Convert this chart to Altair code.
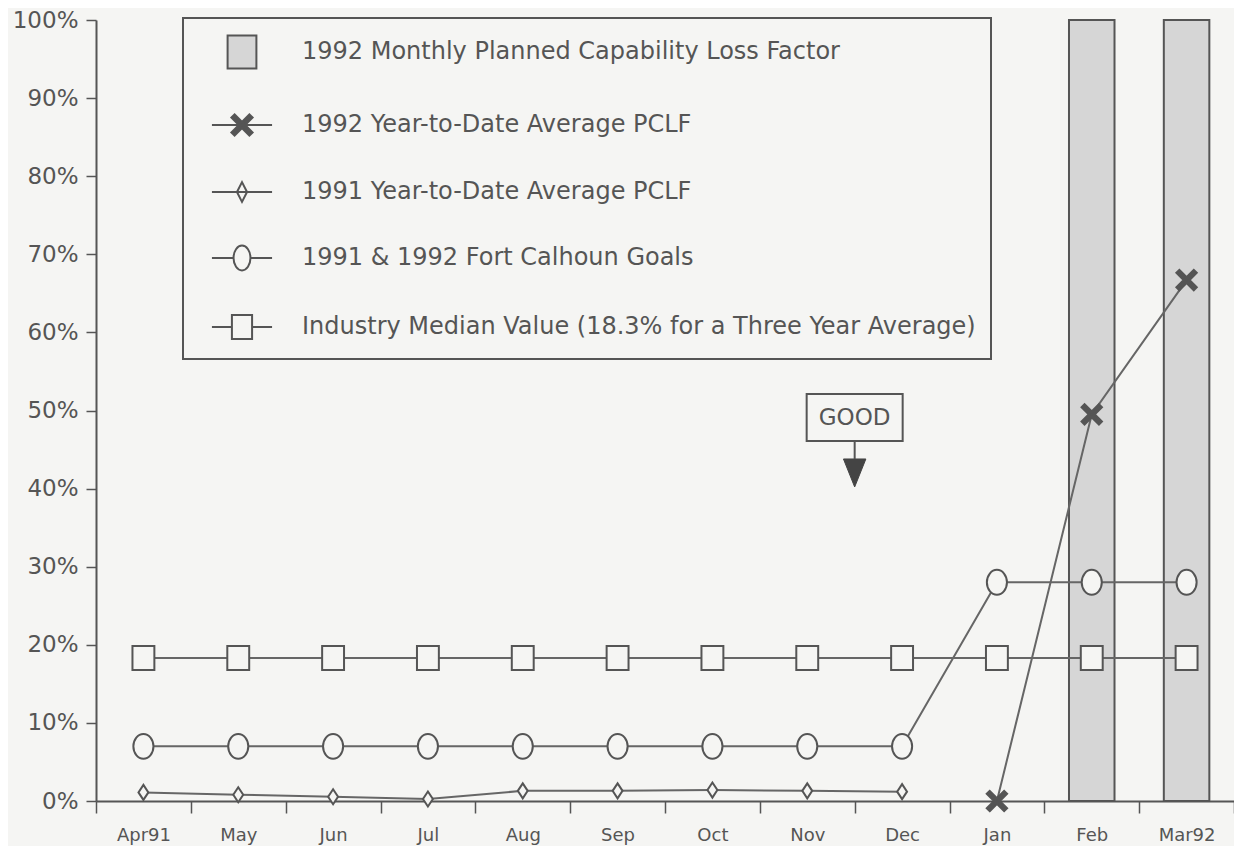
import altair as alt
import pandas as pd

# ---------------- data ----------------
MONTHS = ["Apr91", "May", "Jun", "Jul", "Aug", "Sep", "Oct", "Nov", "Dec", "Jan", "Feb", "Mar92"]

BAR_MONTHS = ["Feb", "Mar92"]
BAR_VALUES = [100, 100]

YTD92_MONTHS = ["Jan", "Feb", "Mar92"]
YTD92_VALUES = [0, 49.5, 66.7]

YTD91_MONTHS = ["Apr91", "May", "Jun", "Jul", "Aug", "Sep", "Oct", "Nov", "Dec"]
YTD91_VALUES = [1.1, 0.8, 0.55, 0.25, 1.3, 1.3, 1.4, 1.3, 1.2]

GOAL_VALUES = [7, 7, 7, 7, 7, 7, 7, 7, 7, 28, 28, 28]
INDUSTRY_VALUES = [18.3] * 12

SERIES = [
    "1992 Monthly Planned Capability Loss Factor",
    "1992 Year-to-Date Average PCLF",
    "1991 Year-to-Date Average PCLF",
    "1991 & 1992 Fort Calhoun Goals",
    "Industry Median Value (18.3% for a Three Year Average)",
]

GOOD_LABEL = "GOOD"
GOOD_MONTH = "Nov"

# ---------------- styles ----------------
BG = "#f5f5f3"
INK = "#555555"
FONT = "DejaVu Sans"

GOOD_BOX_Y = 49.1
GOOD_STEM_TOP = 46.0
GOOD_STEM_BOTTOM = 43.8
GOOD_HEAD_Y = 42.0

# marker paths (unit space, size 900 -> 15 px per unit)
P_X = ("M-0.68,-0.48L0.48,0.68L0.68,0.48L-0.48,-0.68Z "
       "M-0.48,0.68L0.68,-0.48L0.48,-0.68L-0.68,0.48Z")
P_DIAMOND = "M0,-0.5L0.33,0L0,0.5L-0.33,0Z"
P_ELLIPSE = "M-0.67,0A0.67,0.83 0 1,1 0.67,0A0.67,0.83 0 1,1 -0.67,0Z"
P_SQUARE = "M-0.73,-0.8H0.73V0.8H-0.73Z"

# legend symbol paths (size 1296 -> 18 px per unit)
L_BAR = "M-0.8,-0.92H0.8V0.92H-0.8Z"
L_X = ("M-1.67,0H1.67 M-0.59,-0.41L0.41,0.59L0.59,0.41L-0.41,-0.59Z "
       "M-0.41,0.59L0.59,-0.41L0.41,-0.59L-0.59,0.41Z")
L_DIAMOND = "M-1.67,0H1.67M0,-0.55L0.28,0L0,0.55L-0.28,0Z"
L_CIRCLE = ("M-1.67,0H-0.47M0.47,0H1.67M-0.47,0A0.47,0.69 0 1,1 0.47,0"
            "A0.47,0.69 0 1,1 -0.47,0Z")
L_SQUARE = "M-1.67,0H-0.56M0.56,0H1.67M-0.56,-0.67H0.56V0.67H-0.56Z"

# ---------------- tables ----------------
bars = pd.DataFrame({"month": BAR_MONTHS, "value": BAR_VALUES})

rows = []
for m, v in zip(YTD92_MONTHS, YTD92_VALUES):
    rows.append({"month": m, "value": v, "series": SERIES[1]})
for m, v in zip(YTD91_MONTHS, YTD91_VALUES):
    rows.append({"month": m, "value": v, "series": SERIES[2]})
for m, v in zip(MONTHS, GOAL_VALUES):
    rows.append({"month": m, "value": v, "series": SERIES[3]})
for m, v in zip(MONTHS, INDUSTRY_VALUES):
    rows.append({"month": m, "value": v, "series": SERIES[4]})
lines = pd.DataFrame(rows)
lines["order"] = lines["month"].map({m: i for i, m in enumerate(MONTHS)})

legend_df = pd.DataFrame({"entry": SERIES})

annot = pd.DataFrame({
    "month": [GOOD_MONTH], "label": [GOOD_LABEL],
    "box": [GOOD_BOX_Y], "stem_top": [GOOD_STEM_TOP],
    "stem_bottom": [GOOD_STEM_BOTTOM], "head": [GOOD_HEAD_Y],
})

# ---------------- scales / axes ----------------
x_scale = alt.Scale(type="band", domain=MONTHS, paddingInner=0, paddingOuter=0)
y_scale = alt.Scale(domain=[0, 100], nice=False)

x_axis = alt.Axis(
    title=None, tickBand="extent", tickSize=12, tickColor=INK, tickWidth=1.5,
    domainColor=INK, domainWidth=2, labelFont=FONT, labelFontSize=18,
    labelColor=INK, labelPadding=13, labelAngle=0, grid=False,
)
y_axis = alt.Axis(
    title=None, values=list(range(0, 101, 10)), labelExpr="datum.value + '%'",
    tickSize=10, tickColor=INK, tickWidth=1.5, domainColor=INK, domainWidth=2,
    labelFont=FONT, labelFontSize=23, labelColor=INK, labelPadding=8, grid=False,
)


def X(**kw):
    return alt.X("month:N", scale=x_scale, axis=x_axis, **kw)


def Y(field):
    return alt.Y(field, type="quantitative", scale=y_scale, axis=y_axis)


bar_layer = alt.Chart(bars).mark_bar(
    fill="#d6d6d6", stroke=INK, strokeWidth=2, width=alt.RelativeBandSize(0.48)
).encode(x=X(), y=Y("value"))

line_layer = alt.Chart(lines).mark_line(color="#666666", strokeWidth=2).encode(
    x=X(), y=Y("value"), detail="series:N", order="order:Q"
)

point_layer = alt.Chart(lines).mark_point(
    filled=True, opacity=1, stroke=INK, strokeWidth=2, size=900
).encode(
    x=X(), y=Y("value"),
    shape=alt.Shape("series:N", scale=alt.Scale(domain=SERIES[1:], range=[P_X, P_DIAMOND, P_ELLIPSE, P_SQUARE]), legend=None),
    fill=alt.Fill("series:N", scale=alt.Scale(domain=SERIES[1:], range=[INK, BG, BG, BG]), legend=None),
)

leg = alt.Legend(
    orient="none", legendX=87, legendY=-2, title=None, padding=15, rowPadding=33,
    symbolSize=1296, symbolOffset=25, labelOffset=41, labelFont=FONT, labelFontSize=24,
    labelColor=INK, strokeColor=INK, fillColor=BG, symbolStrokeColor=INK,
    symbolStrokeWidth=2, symbolOpacity=1, symbolFillColor=BG, labelLimit=900,
)
legend_layer = alt.Chart(legend_df).mark_point(
    filled=True, opacity=0, stroke=INK, strokeWidth=2
).encode(
    shape=alt.Shape("entry:N", scale=alt.Scale(domain=SERIES, range=[L_BAR, L_X, L_DIAMOND, L_CIRCLE, L_SQUARE]), legend=leg),
    fill=alt.Fill("entry:N", scale=alt.Scale(domain=SERIES, range=["#d6d6d6", INK, BG, BG, BG]), legend=leg),
)

good_box = alt.Chart(annot).mark_point(
    shape="M-1,-0.49H1V0.49H-1Z", size=96 * 96, filled=True, fill=BG,
    stroke=INK, strokeWidth=2, opacity=1
).encode(x=X(bandPosition=1), y=Y("box"))

good_text = alt.Chart(annot).mark_text(
    font=FONT, fontSize=23, color=INK, baseline="middle", align="center"
).encode(x=X(bandPosition=1), y=Y("box"), text="label:N")

good_stem = alt.Chart(annot).mark_rule(stroke=INK, strokeWidth=2).encode(
    x=X(bandPosition=1), y=Y("stem_top"), y2="stem_bottom"
)

good_head = alt.Chart(annot).mark_point(
    shape="M-0.8,-1L0.8,-1L0,1Z", size=784, filled=True, fill="#444444",
    stroke="#444444", strokeWidth=1, opacity=1
).encode(x=X(bandPosition=1), y=Y("head"))

chart = alt.layer(
    bar_layer, line_layer, point_layer, good_stem, good_head, good_box, good_text, legend_layer
).resolve_scale(
    shape="independent", fill="independent"
).properties(
    width=1138, height=781,
    autosize=alt.AutoSizeParams(type="none"),
    padding={"left": 88, "top": 12, "right": 0, "bottom": 45},
    background=BG,
).configure_view(stroke=None).configure_legend(strokeWidth=2)

chart.save("out.html", embed_options={"renderer": "svg", "actions": False})
